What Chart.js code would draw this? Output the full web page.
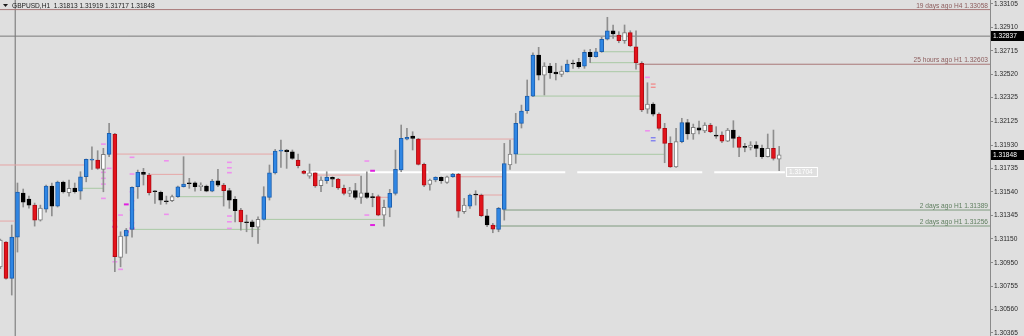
<!DOCTYPE html>
<html>
<head>
<meta charset="utf-8">
<script src="https://cdn.jsdelivr.net/npm/chart.js@4"></script>
<style>
html,body{margin:0;padding:0;background:#dfdfdf;}
canvas{display:block;}
</style>
</head>
<body>
<canvas id="c" width="1024" height="336"></canvas>
<script>
// ---------- DATA ----------
const symbolTitle = "GBPUSD,H1";
const barKinds = "WRBBKKRWBKBKWKBBBRWBRWBBBKRKKKWBBKKWKBKRKKRKKWBBBBKKRRWRWBKRRWKWKKRWBBBBKRRWBKWBRWBKRKRBBWBBBBKWKKWBKKBKBBBKRWRRRWKRRRWBKWKWRKRWKRKWKKWRW".split("");
const opens  = [1.30916,1.31122,1.30820,1.31164,1.31530,1.31480,1.31430,1.31305,1.31397,1.31589,1.31422,1.31622,1.31533,1.31572,1.31547,1.31666,1.31805,1.31805,1.31728,1.31853,
1.32022,1.30995,1.31172,1.31228,1.31583,1.31703,1.31680,1.31547,1.31536,1.31466,1.31466,1.31500,1.31583,1.31611,1.31616,1.31583,1.31589,1.31547,1.31633,1.31597,
1.31550,1.31478,1.31389,1.31291,1.31291,1.31247,1.31311,1.31495,1.31699,1.31880,1.31889,1.31874,1.31805,1.31714,1.31672,1.31699,1.31591,1.31633,1.31661,1.31647,
1.31570,1.31528,1.31550,1.31495,1.31533,1.31500,1.31500,1.31347,1.31411,1.31528,1.31722,1.31980,1.32005,1.31980,1.31769,1.31603,1.31639,1.31661,1.31619,1.31666,
1.31689,1.31375,1.31422,1.31522,1.31514,1.31341,1.31264,1.31228,1.31395,1.31764,1.31855,1.32111,1.32216,1.32338,1.32680,1.32513,1.32588,1.32538,1.32519,1.32541,
1.32611,1.32619,1.32588,1.32702,1.32666,1.32707,1.32811,1.32882,1.32846,1.32799,1.32866,1.32749,1.32611,1.32228,1.32272,1.32188,1.32069,1.31944,1.31747,1.31958,
1.32118,1.32022,1.32074,1.32047,1.32097,1.32013,1.32013,1.31963,1.32055,1.31994,1.31916,1.31911,1.31930,1.31903,1.31833,1.31903,1.31813];
const highs  = [1.31147,1.31127,1.31264,1.31614,1.31564,1.31505,1.31447,1.31430,1.31597,1.31614,1.31630,1.31630,1.31639,1.31614,1.31708,1.31814,1.31916,1.31883,1.31903,1.32111,
1.32028,1.31208,1.31236,1.31583,1.31722,1.31736,1.31694,1.31550,1.31547,1.31505,1.31514,1.31589,1.31833,1.31653,1.31624,1.31616,1.31597,1.31644,1.31728,1.31611,
1.31570,1.31500,1.31403,1.31347,1.31305,1.31333,1.31583,1.31764,1.31894,1.31972,1.31894,1.31889,1.31855,1.31719,1.31772,1.31699,1.31666,1.31708,1.31666,1.31653,
1.31597,1.31578,1.31611,1.31672,1.31708,1.31528,1.31514,1.31472,1.31561,1.31888,1.32097,1.32069,1.32041,1.31986,1.31780,1.31647,1.31666,1.31666,1.31672,1.31694,
1.31694,1.31486,1.31522,1.31550,1.31522,1.31395,1.31278,1.31411,1.31944,1.31972,1.32194,1.32263,1.32472,1.32699,1.32744,1.32616,1.32611,1.32611,1.32588,1.32638,
1.32638,1.32652,1.32722,1.32727,1.32736,1.32827,1.32994,1.32930,1.32874,1.32930,1.32882,1.32882,1.32624,1.32449,1.32283,1.32199,1.32111,1.31999,1.32069,1.32153,
1.32144,1.32105,1.32130,1.32116,1.32111,1.32083,1.32041,1.32069,1.32133,1.32005,1.31944,1.31958,1.31958,1.31930,1.32022,1.32055,1.31919];
const lows   = [1.30900,1.30814,1.30681,1.31039,1.31414,1.31405,1.31255,1.31297,1.31372,1.31339,1.31414,1.31530,1.31505,1.31530,1.31478,1.31624,1.31728,1.31728,1.31541,1.31833,
1.30875,1.30916,1.31028,1.31164,1.31486,1.31597,1.31514,1.31445,1.31436,1.31439,1.31458,1.31495,1.31580,1.31570,1.31547,1.31550,1.31541,1.31541,1.31583,1.31422,
1.31403,1.31291,1.31222,1.31208,1.31166,1.31111,1.31305,1.31472,1.31689,1.31744,1.31736,1.31811,1.31739,1.31689,1.31653,1.31578,1.31541,1.31611,1.31583,1.31561,
1.31514,1.31500,1.31478,1.31445,1.31486,1.31416,1.31341,1.31255,1.31333,1.31514,1.31708,1.31972,1.31889,1.31764,1.31583,1.31555,1.31624,1.31611,1.31611,1.31661,
1.31328,1.31361,1.31403,1.31430,1.31333,1.31250,1.31200,1.31208,1.31305,1.31728,1.31778,1.32072,1.32194,1.32333,1.32472,1.32347,1.32486,1.32472,1.32499,1.32538,
1.32569,1.32569,1.32569,1.32616,1.32661,1.32702,1.32805,1.32819,1.32782,1.32777,1.32749,1.32561,1.32208,1.32194,1.32172,1.32055,1.31783,1.31744,1.31744,1.31949,
1.31978,1.31978,1.32022,1.32033,1.32033,1.31986,1.31949,1.31958,1.31911,1.31833,1.31874,1.31889,1.31833,1.31819,1.31830,1.31805,1.31717];
const closes = [1.31138,1.30820,1.31164,1.31539,1.31455,1.31430,1.31305,1.31405,1.31589,1.31422,1.31622,1.31539,1.31570,1.31541,1.31666,1.31811,1.31814,1.31736,1.31853,1.32028,
1.31000,1.31172,1.31222,1.31578,1.31703,1.31686,1.31533,1.31541,1.31472,1.31458,1.31500,1.31583,1.31605,1.31608,1.31583,1.31597,1.31547,1.31630,1.31597,1.31550,
1.31472,1.31383,1.31291,1.31283,1.31250,1.31311,1.31500,1.31699,1.31880,1.31889,1.31874,1.31819,1.31758,1.31694,1.31699,1.31589,1.31639,1.31661,1.31647,1.31574,
1.31528,1.31550,1.31495,1.31533,1.31495,1.31491,1.31347,1.31411,1.31528,1.31728,1.31986,1.31994,1.31986,1.31769,1.31597,1.31639,1.31661,1.31633,1.31666,1.31689,
1.31380,1.31430,1.31514,1.31514,1.31341,1.31264,1.31230,1.31403,1.31776,1.31855,1.32111,1.32213,1.32338,1.32680,1.32513,1.32588,1.32532,1.32522,1.32547,1.32605,
1.32605,1.32582,1.32702,1.32666,1.32707,1.32811,1.32882,1.32855,1.32799,1.32866,1.32755,1.32616,1.32222,1.32272,1.32188,1.32069,1.31944,1.31747,1.31958,1.32118,
1.32022,1.32078,1.32055,1.32097,1.32041,1.32005,1.31963,1.32055,1.31986,1.31911,1.31911,1.31930,1.31903,1.31833,1.31903,1.31819,1.31848];

const priceTicks = [1.33105,1.32910,1.32715,1.32520,1.32325,1.32125,1.31930,1.31735,1.31540,1.31345,1.31150,1.30950,1.30755,1.30560,1.30365];

// short resistance segments: price, from bar, to bar
const resistSegs = [[1.31764,-1,14.8],[1.31297,-1,2.6],[1.31855,20,48],[1.31686,26,32],[1.31680,55,62.8],[1.31495,65,67.8],[1.31980,72.8,89.7],[1.31666,79,87.8],[1.31514,83.2,87.8]];
// short support segments: price, from bar, to bar
const supportSegs = [[1.31570,14.3,18],[1.31500,31,38.9],[1.31228,23,45.4],[1.31311,46,67.2],[1.32707,105.2,110.6],[1.32616,103,110.8],[1.32541,99,111.7],[1.32338,93,111.7],[1.31853,90.2,116]];

// labelled levels running to the right edge
const levelPrices = [1.33058, 1.32603, 1.31389, 1.31256];
const levelStarts = [-1, 111.2, 87.8, 86];
const levelTexts  = ["19 days ago H4 1.33058", "25 hours ago H1 1.32603", "2 days ago H1 1.31389", "2 days ago H1 1.31256"];
const levelKinds  = ["res", "res", "sup", "sup"];

const askLine = 1.32837;
const whiteLevel = [1.31704, 52.9, 137];
const vLineBar = 2.6;

// indicator marks: bar, price
const pinkMarks = [[18,1.31938],[18,1.31703],[18,1.31653],[18,1.31605],[18,1.31486],[19,1.31736],[20,1.31300],[20,1.31006],[20,1.30958],[21,1.31347],[21,1.30895],
[23,1.31828],[23,1.31689],[23,1.31541],[23,1.31466],[23,1.31389],[23,1.31283],[29,1.31799],[29,1.31353],[40,1.31786],[40,1.31741],[40,1.31700],[40,1.31339],[40,1.31291],[40,1.31236],
[64,1.31797],[64,1.31347],[113,1.32494],[113,1.32049]];
const magentaMarks = [[20,1.31250],[22,1.31436],[22,1.31208],[23,1.31236],[65,1.31716],[65,1.31264]];
const salmonMarks = [[114,1.32438],[114,1.32411]];
const blueMarks = [[114,1.31991],[114,1.31966]];

// ---------- CHART ----------
const fillOf = {B:'#2f86e4', R:'#e3131b', W:'#ffffff', K:'#000000'};
const edgeOf = {B:'#1c5fae', R:'#b00a12', W:'#7c7c7c', K:'#000000'};
const N = opens.length;
const idx = opens.map((_, i) => i);

const bodies = idx.map(i => ({x: i, y: [Math.min(opens[i], closes[i]), Math.max(opens[i], closes[i])]}));
const wicks = idx.map(i => ({x: i, y: [lows[i], highs[i]]}));

const X_MIN = -0.052, X_MAX = 172.81;
const Y_MIN = 1.30340, Y_MAX = 1.33138;

function segData(list) {
  const out = [];
  list.forEach(s => {
    out.push({x: Math.max(s[1], X_MIN), y: s[0]});
    out.push({x: s[2], y: s[0]});
    out.push({x: s[2], y: null});
  });
  return out;
}
function markData(list) { return list.map(m => ({x: m[0], y: m[1]})); }

const levelSegs = levelPrices.map((p, i) => [p, levelStarts[i], X_MAX]);

const datasets = [
  {type:'bar', label:'body', data: bodies, grouped:false, barThickness:4, minBarLength:1,
   backgroundColor: barKinds.map(k => fillOf[k]), borderColor: barKinds.map(k => edgeOf[k]),
   borderWidth:1, borderSkipped:false, order:0},
  {type:'bar', label:'wick', data: wicks, grouped:false, barThickness:1,
   backgroundColor:'#8e8e8e', borderWidth:0, order:1},
  {type:'line', label:'pink', data: markData(pinkMarks), showLine:false, pointStyle:'line', pointRadius:2.4,
   pointBorderWidth:1.6, pointBorderColor:'#ee90ee', pointBackgroundColor:'#ee90ee', order:2},
  {type:'line', label:'magenta', data: markData(magentaMarks), showLine:false, pointStyle:'line', pointRadius:2.4,
   pointBorderWidth:2, pointBorderColor:'#e020e0', pointBackgroundColor:'#e020e0', order:2},
  {type:'line', label:'salmon', data: markData(salmonMarks), showLine:false, pointStyle:'line', pointRadius:2.4,
   pointBorderWidth:1.4, pointBorderColor:'#f09090', order:2},
  {type:'line', label:'bluem', data: markData(blueMarks), showLine:false, pointStyle:'line', pointRadius:2.4,
   pointBorderWidth:1.4, pointBorderColor:'#8080f0', order:2},
  {type:'line', label:'white', data:[{x:whiteLevel[1], y:whiteLevel[0]},{x:whiteLevel[2], y:whiteLevel[0]}],
   borderColor:'#ffffff', borderWidth:2, borderDash:[125,12], pointRadius:0, order:6},
  {type:'line', label:'res', data: segData(resistSegs), borderColor:'#e6a6a6', borderWidth:1, pointRadius:0, spanGaps:false, order:7},
  {type:'line', label:'sup', data: segData(supportSegs), borderColor:'#a9c9a4', borderWidth:1, pointRadius:0, spanGaps:false, order:7},
  {type:'line', label:'lvlres', data: segData(levelSegs.filter((_, i) => levelKinds[i] === 'res')), borderColor:'#a87878', borderWidth:1, pointRadius:0, spanGaps:false, order:7},
  {type:'line', label:'lvlsup', data: segData(levelSegs.filter((_, i) => levelKinds[i] === 'sup')), borderColor:'#7e9a7e', borderWidth:1, pointRadius:0, spanGaps:false, order:7},
  {type:'line', label:'ask', data:[{x:X_MIN, y:askLine},{x:X_MAX, y:askLine}], borderColor:'#7a7a7a', borderWidth:1, pointRadius:0, order:7},
  {type:'line', label:'vline', data:[{x:vLineBar, y:Y_MIN},{x:vLineBar, y:Y_MAX}], borderColor:'#6e6e6e', borderWidth:1, pointRadius:0, order:7}
];

const FONT = '6.6px "Liberation Sans", Arial, sans-serif';

const overlay = {
  id:'overlay',
  beforeDraw(chart) {
    const c = chart.ctx;
    c.save();
    c.fillStyle = '#dfdfdf';
    c.fillRect(0, 0, chart.width, chart.height);
    c.restore();
  },
  afterDraw(chart) {
    const c = chart.ctx, ys = chart.scales.y, xs = chart.scales.x, ca = chart.chartArea;
    c.save();
    c.font = FONT;
    // level labels
    c.textAlign = 'right'; c.textBaseline = 'alphabetic';
    levelPrices.forEach((p, i) => {
      c.fillStyle = levelKinds[i] === 'res' ? '#8c5c5c' : '#5e7e5e';
      c.fillText(levelTexts[i], ca.right - 2, ys.getPixelForValue(p) - 2);
    });
    // axis boxes
    c.textAlign = 'left'; c.textBaseline = 'middle';
    [askLine, closes[N - 1]].forEach(p => {
      const py = Math.round(ys.getPixelForValue(p));
      c.fillStyle = '#000';
      c.fillRect(ca.right + 1, py - 5, 33, 10);
      c.fillStyle = '#fff';
      c.fillText(p.toFixed(5), ca.right + 3, py + 0.5);
    });
    // white price label
    const wx = xs.getPixelForValue(whiteLevel[2]) + 1, wy = Math.round(ys.getPixelForValue(whiteLevel[0]));
    c.strokeStyle = '#ffffff'; c.lineWidth = 1;
    c.strokeRect(wx + 0.5, wy - 4.5, 31, 9);
    c.fillStyle = '#ffffff';
    c.fillText(whiteLevel[0].toFixed(5), wx + 3, wy + 0.5);
    // header
    c.fillStyle = '#1a1a1a';
    c.beginPath(); c.moveTo(3, 4); c.lineTo(8, 4); c.lineTo(5.5, 7); c.closePath(); c.fill();
    c.fillText(symbolTitle + '  ' + [opens[N-1], highs[N-1], lows[N-1], closes[N-1]].map(v => v.toFixed(5)).join(' '), 12, 6);
    c.restore();
  }
};

new Chart(document.getElementById('c'), {
  data: {datasets},
  options: {
    responsive:false, animation:false, devicePixelRatio:1,
    layout:{padding:0, autoPadding:false},
    plugins:{legend:{display:false}, tooltip:{enabled:false}},
    scales:{
      x:{type:'linear', min:X_MIN, max:X_MAX, offset:false, display:false},
      y:{type:'linear', position:'right', min:Y_MIN, max:Y_MAX,
         afterBuildTicks: s => { s.ticks = priceTicks.map(v => ({value:v})); },
         afterFit: s => { s.width = 34; s.paddingTop = 0; s.paddingBottom = 0; },
         ticks:{autoSkip:false, padding:1, color:'#2a2a2a', font:{family:'"Liberation Sans", Arial, sans-serif', size:6.6},
                callback: v => Number(v).toFixed(5)},
         grid:{drawOnChartArea:false, drawTicks:true, tickLength:3, color:'#8a8a8a'},
         border:{display:true, color:'#8a8a8a', width:1}}
    }
  },
  plugins:[overlay]
});
</script>
</body>
</html>
